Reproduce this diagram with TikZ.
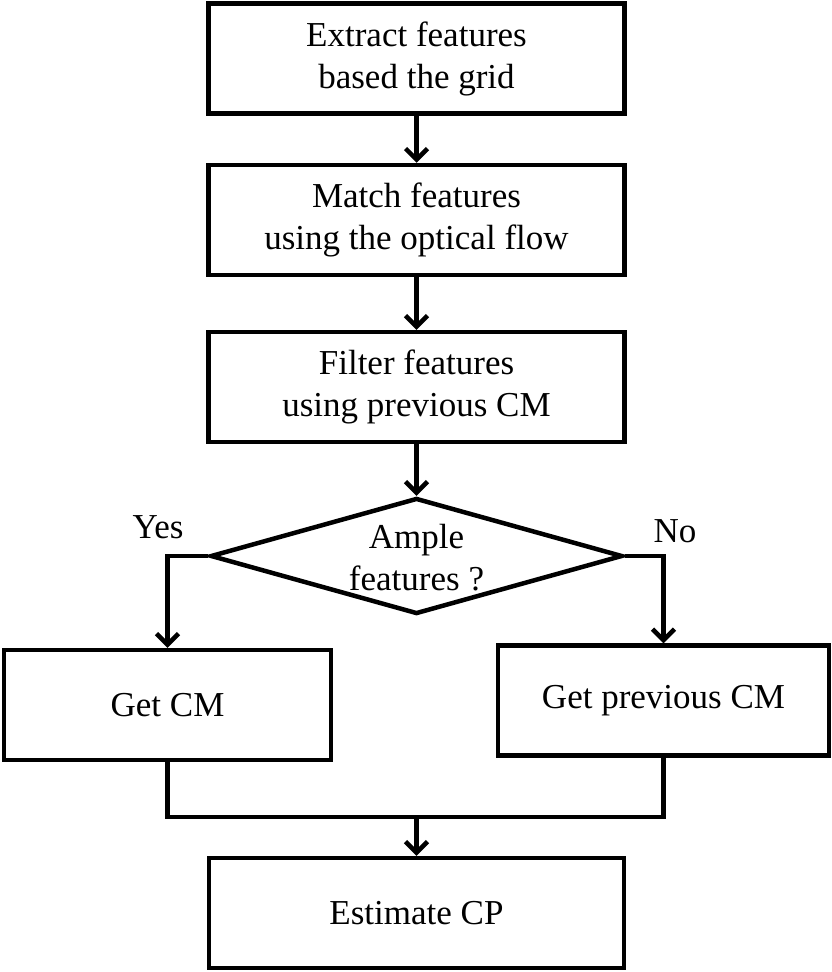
\documentclass[tikz,border=0pt]{standalone}
\usepackage{fontspec}
\setmainfont{Liberation Serif}
\usetikzlibrary{shapes.geometric,arrows.meta}
\begin{document}
\begin{tikzpicture}[x=1pt,y=-1pt,line width=4.5pt,
  >={Straight Barb[length=11pt,width=22pt]},
  font=\fontsize{35}{42}\selectfont,
  stepbox/.style={draw,rectangle,align=center,inner sep=0pt,minimum height=110pt},
  decide/.style={draw,diamond,inner sep=0pt,aspect=3.5,minimum width=412pt,minimum height=116pt}]
\def\mid{416.5}
\useasboundingbox (0,0) rectangle (832,972);
\node[stepbox,minimum width=416pt] (extract) at (\mid,58.5) {Extract features\\based the grid};
\node[stepbox,minimum width=416pt] (match) at (\mid,220) {Match features\\using the optical flow};
\node[stepbox,minimum width=416pt] (filter) at (\mid,387) {Filter features\\using previous CM};
\node[decide] (ample) at (\mid,556) {};
\node[align=center] (amplelabel) at (\mid,558) {Ample\\features ?};
\node[stepbox,minimum width=327pt] (getcm) at (167.5,705) {Get CM};
\node[stepbox,minimum width=331pt] (getprev) at (663.5,700.5) {Get previous CM};
\node[stepbox,minimum width=415pt] (estimate) at (\mid,913) {Estimate CP};
\node (yes) at (158,527) {Yes};
\node (no) at (675,531) {No};
\coordinate (merge) at (\mid,817);
\draw[->] (extract) -- (match);
\draw[->] (match) -- (filter);
\draw[->] (filter) -- (ample);
\draw[->,line join=miter] (ample.west) -| (getcm.north);
\draw[->,line join=miter] (ample.east) -| (getprev.north);
\draw[line join=miter] (getcm.south) |- (merge) -| (getprev.south);
\draw[->] (merge) -- (estimate.north);
\end{tikzpicture}
\end{document}
